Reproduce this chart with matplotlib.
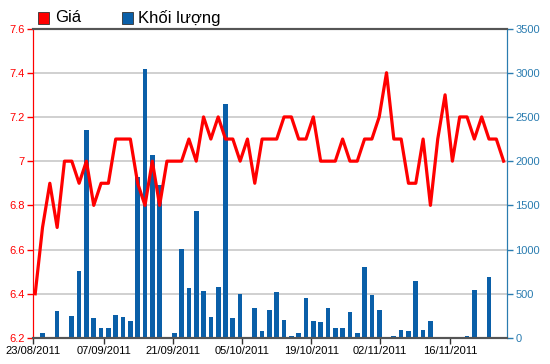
import matplotlib
matplotlib.use('Agg')
import matplotlib.pyplot as plt
from matplotlib.patches import Rectangle

##########DATA##########
price = [6.4, 6.7, 6.9, 6.7, 7.0, 7.0, 6.9, 7.0, 6.8, 6.9,
         6.9, 7.1, 7.1, 7.1, 6.9, 6.8, 7.0, 6.8, 7.0, 7.0,
         7.0, 7.1, 7.0, 7.2, 7.1, 7.2, 7.1, 7.1, 7.0, 7.1,
         6.9, 7.1, 7.1, 7.1, 7.2, 7.2, 7.1, 7.1, 7.2, 7.0,
         7.0, 7.0, 7.1, 7.0, 7.0, 7.1, 7.1, 7.2, 7.4, 7.1,
         7.1, 6.9, 6.9, 7.1, 6.8, 7.1, 7.3, 7.0, 7.2, 7.2,
         7.1, 7.2, 7.1, 7.1, 7.0]
volume = [0, 57, 0, 306, 0, 253, 762, 2347, 226, 113,
          113, 264, 238, 196, 1823, 3045, 2075, 1725, 15, 57,
          1008, 562, 1434, 536, 242, 577, 2642, 226, 498, 0,
          340, 83, 321, 517, 208, 26, 57, 453, 196, 181,
          340, 113, 113, 290, 57, 800, 491, 321, 0, 26,
          94, 75, 649, 94, 196, 0, 0, 0, 0, 26,
          547, 0, 687, 0, 0]
tick_labels = ['23/08/2011', '07/09/2011', '21/09/2011', '05/10/2011',
               '19/10/2011', '02/11/2011', '16/11/2011']
tick_pos = [-0.3, 9.4, 18.8, 28.3, 37.7, 47.1, 56.7]
price_ticks = [6.2, 6.4, 6.6, 6.8, 7.0, 7.2, 7.4, 7.6]
price_tick_labels = ['6.2', '6.4', '6.6', '6.8', '7', '7.2', '7.4', '7.6']
vol_ticks = [0, 500, 1000, 1500, 2000, 2500, 3000, 3500]

##########STYLE##########
RED = '#ff0000'
BAR = '#0a5fa8'
BLUE = '#2a7cb0'
plt.rcParams['font.family'] = ['Liberation Sans', 'DejaVu Sans']

##########PLOT##########
fig = plt.figure(figsize=(5.5, 3.64), dpi=100)
ax = fig.add_axes([0.06, 0.0714, 0.8618, 0.8503])
ax2 = ax.twinx()
x = list(range(len(price)))

# volume bars (right axis)
ax.bar(x, volume, width=0.64, color=BAR, zorder=2)
ax.set_ylim(0, 3500)
ax.set_xlim(-0.2, 64.46)
ax.yaxis.set_ticks_position('right')
ax.set_yticks(vol_ticks)
ax.tick_params(axis='y', colors=BLUE, labelsize=8, length=4, width=1, pad=2)
ax.grid(axis='y', color='#c8c8c8', linewidth=1.2)
ax.set_axisbelow(True)

ax.set_xticks(tick_pos)
ax.set_xticklabels(tick_labels)
ax.tick_params(axis='x', colors='#333333', labelcolor='black', labelsize=8, length=4, width=1, pad=2)

# price line (left axis)
ax2.plot(x, price, color=RED, linewidth=2.3, zorder=3)
ax2.set_ylim(6.2, 7.6)
ax2.yaxis.set_ticks_position('left')
ax2.set_yticks(price_ticks)
ax2.set_yticklabels(price_tick_labels)
ax2.tick_params(axis='y', colors=RED, labelsize=8, length=4, width=1, pad=2)

for a in (ax, ax2):
    a.spines['left'].set_color(RED)
    a.spines['right'].set_color(BLUE)
    a.spines['top'].set_color('#555555')
    a.spines['bottom'].set_color('#555555')
    a.spines['top'].set_linewidth(1.5)
    a.spines['bottom'].set_linewidth(1.5)

# legend
fig.patches.append(Rectangle((38 / 550, 1 - 24 / 364), 11 / 550, 12 / 364,
                             transform=fig.transFigure, facecolor=RED,
                             edgecolor='#333333', linewidth=0.6))
fig.text(55 / 550, 1 - 18 / 364, 'Giá', fontsize=12, va='center', ha='left')
fig.patches.append(Rectangle((122 / 550, 1 - 24 / 364), 11 / 550, 12 / 364,
                             transform=fig.transFigure, facecolor=BAR,
                             edgecolor='#333333', linewidth=0.6))
fig.text(138 / 550, 1 - 18 / 364, 'Khối lượng', fontsize=12, va='center', ha='left')

fig.savefig('out.png', dpi=100)
